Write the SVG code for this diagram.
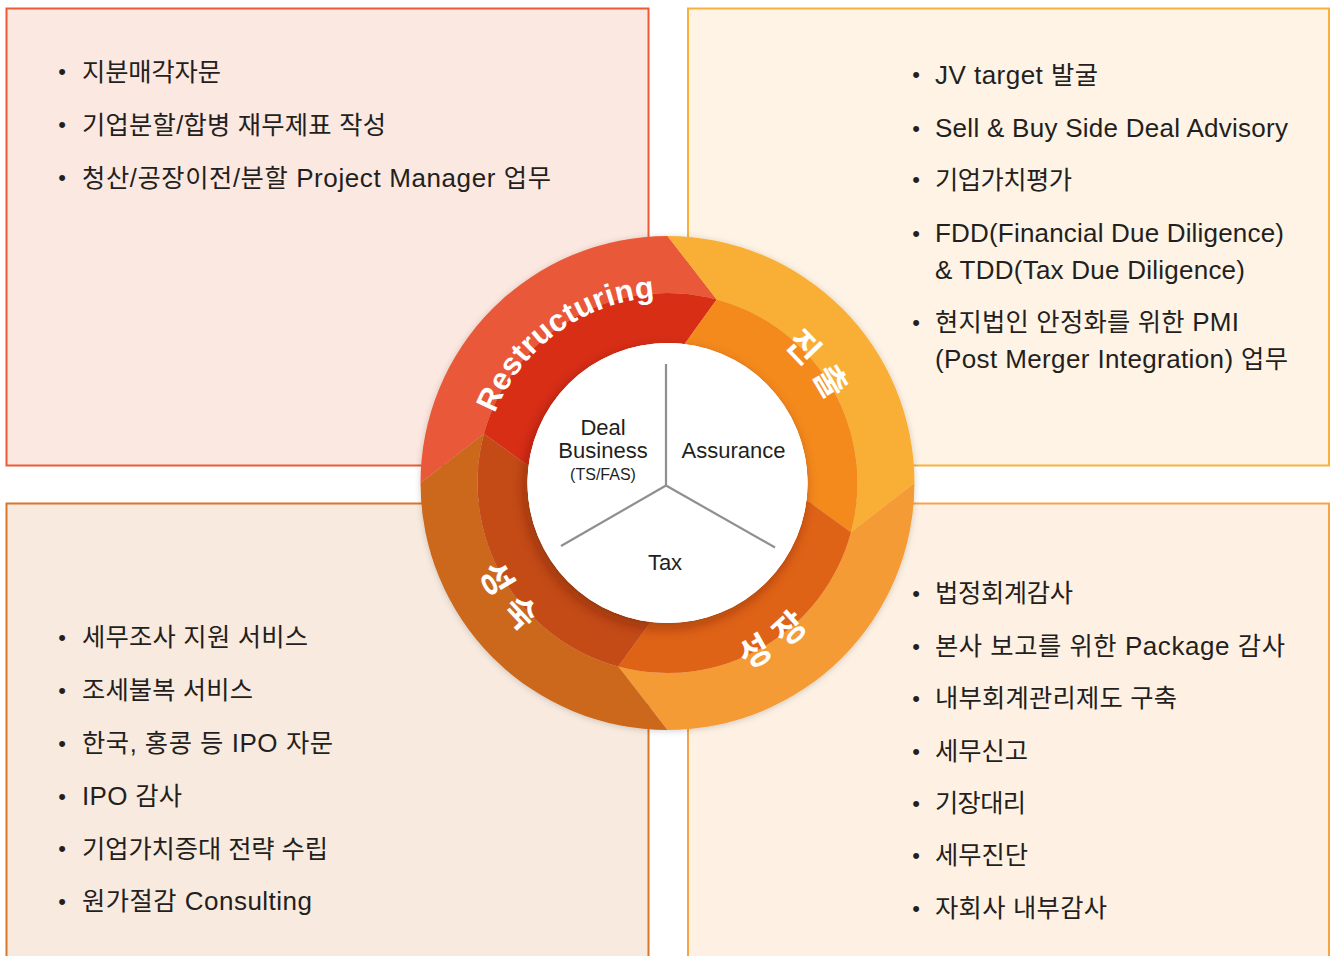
<svg xmlns="http://www.w3.org/2000/svg" width="1330" height="956" viewBox="0 0 1330 956">
  <style>
    .t { font-family: "Liberation Sans", "Noto Sans CJK KR", sans-serif; font-size: 26px; fill: #231f20; }
    .k { font-size: 25.3px; }
    .b { font-family: "Liberation Sans", sans-serif; font-size: 22px; fill: #231f20; text-anchor: middle; }
    .c { font-family: "Liberation Sans", "Noto Sans CJK KR", sans-serif; fill: #231f20; text-anchor: middle; }
    .ring { font-family: "Liberation Sans", "Noto Sans CJK KR", sans-serif; font-weight: bold; fill: #ffffff; }
    .div { stroke: #8f8f8f; stroke-width: 2.2; fill: none; stroke-linecap: butt; }
  </style>
  <defs>
    <filter id="wheelShadow" x="-10%" y="-10%" width="120%" height="120%">
      <feDropShadow dx="0" dy="1" stdDeviation="3" flood-color="#000" flood-opacity="0.18"/>
    </filter>
    <filter id="coreShadow" x="-20%" y="-20%" width="140%" height="140%">
      <feDropShadow dx="-3" dy="5" stdDeviation="7" flood-color="#5a1a00" flood-opacity="0.45"/>
    </filter>
    <path id="arcRes" d="M482.52,502.44 A186,186 0 0 1 743.15,313.08"/>
    <path id="arcJin" d="M687.56,304.12 A180,180 0 0 1 846.38,503.06"/>
    <path id="arcSJ" d="M628.26,681.15 A202,202 0 0 0 865.65,522.24"/>
    <path id="arcSS" d="M462.41,448.31 A208,208 0 0 0 632.81,688.09"/>
  </defs>

  <rect width="1330" height="956" fill="#ffffff"/>

  <!-- Top-left box: Restructuring -->
  <g id="box-restructuring">
    <rect x="6.5" y="8.5" width="642" height="457" fill="#fbe8e0" stroke="#ee5a36" stroke-width="2"/>
    <text class="b" x="62" y="79">•</text>
    <text class="t k" x="82" y="80.5" textLength="139" lengthAdjust="spacing">지분매각자문</text>
    <text class="b" x="62" y="132">•</text>
    <text class="t k" x="82" y="133.5" textLength="304" lengthAdjust="spacing">기업분할/합병 재무제표 작성</text>
    <text class="b" x="62" y="185">•</text>
    <text class="t" x="82" y="186.5" textLength="469" lengthAdjust="spacing"><tspan class="k">청산/공장이전/분할</tspan> Project Manager <tspan class="k">업무</tspan></text>
  </g>

  <!-- Top-right box: 진출 -->
  <g id="box-entry">
    <rect x="688" y="8.5" width="641" height="457" fill="#fef3e5" stroke="#f9b13a" stroke-width="2"/>
    <text class="b" x="916" y="82">•</text>
    <text class="t" x="935" y="83.5" textLength="163" lengthAdjust="spacing">JV target <tspan class="k">발굴</tspan></text>
    <text class="b" x="916" y="135.5">•</text>
    <text class="t" x="935" y="137" textLength="353" lengthAdjust="spacing">Sell &amp; Buy Side Deal Advisory</text>
    <text class="b" x="916" y="187">•</text>
    <text class="t k" x="935" y="188.5" textLength="137" lengthAdjust="spacing">기업가치평가</text>
    <text class="b" x="916" y="240.5">•</text>
    <text class="t" x="935" y="242" textLength="349" lengthAdjust="spacing">FDD(Financial Due Diligence)</text>
    <text class="t" x="935" y="278.5" textLength="310" lengthAdjust="spacing">&amp; TDD(Tax Due Diligence)</text>
    <text class="b" x="916" y="329.5">•</text>
    <text class="t" x="935" y="331" textLength="304" lengthAdjust="spacing"><tspan class="k">현지법인 안정화를 위한</tspan> PMI</text>
    <text class="t" x="935" y="368" textLength="353" lengthAdjust="spacing">(Post Merger Integration) <tspan class="k">업무</tspan></text>
  </g>

  <!-- Bottom-left box: 성숙 -->
  <g id="box-maturity">
    <rect x="6.5" y="503.5" width="642" height="462" fill="#f8eadf" stroke="#d8772a" stroke-width="2"/>
    <text class="b" x="62" y="644.5">•</text>
    <text class="t k" x="82" y="646" textLength="226" lengthAdjust="spacing">세무조사 지원 서비스</text>
    <text class="b" x="62" y="697.5">•</text>
    <text class="t k" x="82" y="699" textLength="171" lengthAdjust="spacing">조세불복 서비스</text>
    <text class="b" x="62" y="750.5">•</text>
    <text class="t" x="82" y="752" textLength="251" lengthAdjust="spacing"><tspan class="k">한국, 홍콩 등</tspan> IPO <tspan class="k">자문</tspan></text>
    <text class="b" x="62" y="803.5">•</text>
    <text class="t" x="82" y="805" textLength="100" lengthAdjust="spacing">IPO <tspan class="k">감사</tspan></text>
    <text class="b" x="62" y="856">•</text>
    <text class="t k" x="82" y="857.5" textLength="246" lengthAdjust="spacing">기업가치증대 전략 수립</text>
    <text class="b" x="62" y="908.5">•</text>
    <text class="t" x="82" y="910" textLength="230" lengthAdjust="spacing"><tspan class="k">원가절감</tspan> Consulting</text>
  </g>

  <!-- Bottom-right box: 성장 -->
  <g id="box-growth">
    <rect x="688" y="503.5" width="641" height="462" fill="#fef1e4" stroke="#f5a548" stroke-width="2"/>
    <text class="b" x="916" y="600.5">•</text>
    <text class="t k" x="935" y="602" textLength="138" lengthAdjust="spacing">법정회계감사</text>
    <text class="b" x="916" y="653.5">•</text>
    <text class="t" x="935" y="655" textLength="350" lengthAdjust="spacing"><tspan class="k">본사 보고를 위한</tspan> Package <tspan class="k">감사</tspan></text>
    <text class="b" x="916" y="705.5">•</text>
    <text class="t k" x="935" y="707" textLength="242" lengthAdjust="spacing">내부회계관리제도 구축</text>
    <text class="b" x="916" y="758.5">•</text>
    <text class="t k" x="935" y="760" textLength="93" lengthAdjust="spacing">세무신고</text>
    <text class="b" x="916" y="810.5">•</text>
    <text class="t k" x="935" y="812" textLength="91" lengthAdjust="spacing">기장대리</text>
    <text class="b" x="916" y="862.5">•</text>
    <text class="t k" x="935" y="864" textLength="93" lengthAdjust="spacing">세무진단</text>
    <text class="b" x="916" y="915.5">•</text>
    <text class="t k" x="935" y="917" textLength="172" lengthAdjust="spacing">자회사 내부감사</text>
  </g>

  <!-- Wheel -->
  <g id="wheel" filter="url(#wheelShadow)">
    <g id="seg-restructuring">
      <path d="M420.5,483 A247,247 0 0 1 667.5,236 L716.68,299.47 A190,190 0 0 0 483.97,433.82 Z" fill="#e95837"/>
      <path d="M483.97,433.82 A190,190 0 0 1 716.68,299.47 L684.56,344.04 A140,140 0 0 0 528.54,465.94 Z" fill="#d92d19"/>
    </g>
    <g id="seg-entry">
      <path d="M667.5,236 A247,247 0 0 1 914.5,483 L851.03,532.18 A190,190 0 0 0 716.68,299.47 Z" fill="#f9af35"/>
      <path d="M716.68,299.47 A190,190 0 0 1 851.03,532.18 L806.46,500.06 A140,140 0 0 0 684.56,344.04 Z" fill="#f58a1e"/>
    </g>
    <g id="seg-growth">
      <path d="M914.5,483 A247,247 0 0 1 667.5,730 L618.32,666.53 A190,190 0 0 0 851.03,532.18 Z" fill="#f59b34"/>
      <path d="M851.03,532.18 A190,190 0 0 1 618.32,666.53 L650.44,621.96 A140,140 0 0 0 806.46,500.06 Z" fill="#df6419"/>
    </g>
    <g id="seg-maturity">
      <path d="M667.5,730 A247,247 0 0 1 420.5,483 L483.97,433.82 A190,190 0 0 0 618.32,666.53 Z" fill="#cb671d"/>
      <path d="M618.32,666.53 A190,190 0 0 1 483.97,433.82 L528.54,465.94 A140,140 0 0 0 650.44,621.96 Z" fill="#c44b15"/>
    </g>
  </g>

  <g id="ring-labels">
    <text class="ring" font-size="31"><textPath href="#arcRes" startOffset="50%" text-anchor="middle" textLength="208" lengthAdjust="spacing">Restructuring</textPath></text>
    <text class="ring" font-size="34" letter-spacing="9.7" text-anchor="middle"><textPath href="#arcJin" startOffset="146.2">진출</textPath></text>
    <text class="ring" font-size="34" letter-spacing="13.4" text-anchor="middle"><textPath href="#arcSJ" startOffset="165.4">성장</textPath></text>
    <text class="ring" font-size="34" letter-spacing="13" text-anchor="middle"><textPath href="#arcSS" startOffset="169.9">성숙</textPath></text>
  </g>

  <!-- Core -->
  <g id="core">
    <circle cx="667.5" cy="483" r="140" fill="#ffffff" filter="url(#coreShadow)"/>
    <circle cx="667.5" cy="483" r="140" fill="#ffffff"/>
  </g>

  <g id="connectors">
    <line class="div" x1="666" y1="364" x2="666" y2="485.5"/>
    <line class="div" x1="666" y1="485.5" x2="561" y2="546"/>
    <line class="div" x1="666" y1="485.5" x2="775" y2="547.5"/>
  </g>

  <g id="core-labels">
    <g id="node-deal">
      <text class="c" x="603" y="435" font-size="22">Deal</text>
      <text class="c" x="603" y="458" font-size="22">Business</text>
      <text class="c" x="603" y="480" font-size="16">(TS/FAS)</text>
    </g>
    <g id="node-assurance">
      <text class="c" x="733.5" y="458" font-size="22">Assurance</text>
    </g>
    <g id="node-tax">
      <text class="c" x="665" y="570" font-size="22">Tax</text>
    </g>
  </g>
</svg>
